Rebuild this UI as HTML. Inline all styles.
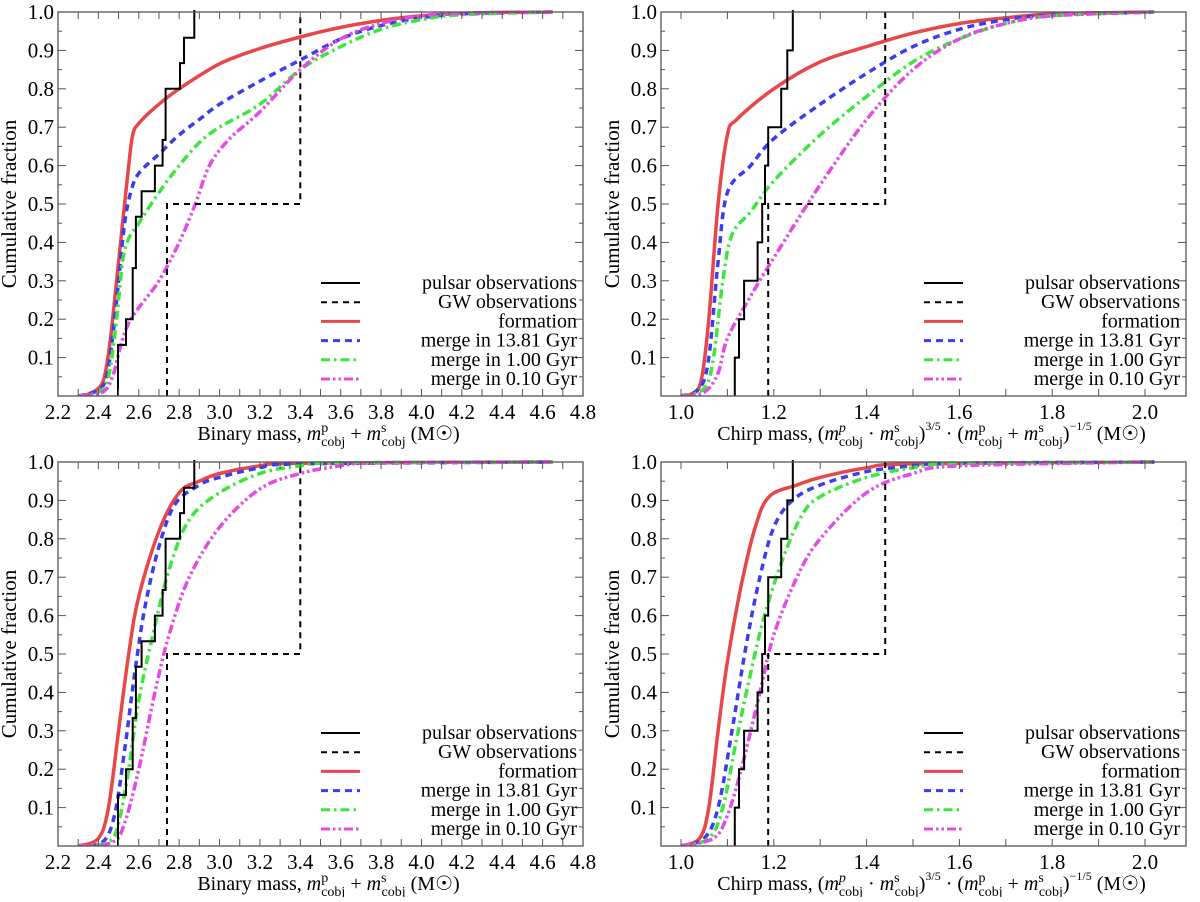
<!DOCTYPE html>
<html><head><meta charset="utf-8"><style>
body{margin:0;background:#fff}
svg, svg text, svg tspan{font-family:'Liberation Serif','Times New Roman','DejaVu Serif',serif !important}
</style></head><body>
<svg id="chart" width="1200" height="897" viewBox="0 0 1200 897"></svg>
<script>
// ---- data ----
const pulsarBinary = [2.497,2.537,2.57,2.586,2.614,2.68,2.718,2.733,2.804,2.824,2.875];
const pulsarBinaryFrac = [0.133,0.2,0.333,0.467,0.533,0.6,0.667,0.8,0.867,0.933,1.0];
const pulsarChirp = [1.116,1.125,1.136,1.165,1.175,1.181,1.188,1.216,1.229,1.241];
const pulsarChirpFrac = [0.1,0.2,0.3,0.4,0.5,0.6,0.7,0.8,0.9,1.0];
const gwBinary = [2.74,3.4];
const gwChirp = [1.188,1.44];
const gwFrac = [0.5,1.0];

// top-left
const tlFormX=[2.3,2.35,2.4,2.43,2.46,2.49,2.52,2.55,2.57,2.6,2.7,2.8,3.0,3.2,3.4,3.6,3.8,4.0,4.2,4.4,4.65];
const tlFormY=[0,0.005,0.02,0.05,0.15,0.3,0.45,0.6,0.68,0.71,0.76,0.8,0.865,0.905,0.935,0.96,0.978,0.99,0.996,0.999,1];
const tlM13X=[2.3,2.4,2.44,2.47,2.5,2.53,2.56,2.6,2.7,2.8,2.9,3.0,3.2,3.4,3.6,3.8,4.0,4.2,4.65];
const tlM13Y=[0,0.015,0.05,0.15,0.3,0.45,0.53,0.58,0.63,0.68,0.72,0.76,0.82,0.875,0.93,0.965,0.985,0.995,1];
const tlM1X=[2.3,2.4,2.45,2.49,2.52,2.55,2.6,2.7,2.8,2.9,3.0,3.2,3.4,3.6,3.8,4.0,4.2,4.65];
const tlM1Y=[0,0.01,0.05,0.2,0.35,0.41,0.45,0.53,0.6,0.66,0.7,0.76,0.85,0.91,0.955,0.98,0.993,1];
const tlM01X=[2.3,2.42,2.47,2.51,2.55,2.6,2.7,2.8,2.88,2.95,3.05,3.2,3.4,3.6,3.8,4.0,4.2,4.65];
const tlM01Y=[0,0.01,0.05,0.13,0.19,0.23,0.3,0.4,0.5,0.6,0.67,0.74,0.85,0.93,0.97,0.99,0.997,1];
// top-right
const trFormX=[1.0,1.03,1.045,1.06,1.08,1.1,1.12,1.2,1.3,1.4,1.5,1.6,1.7,1.8,2.02];
const trFormY=[0,0.01,0.05,0.2,0.5,0.68,0.72,0.8,0.87,0.91,0.945,0.97,0.985,0.995,1];
const trM13X=[1.0,1.04,1.06,1.08,1.1,1.15,1.2,1.3,1.4,1.5,1.6,1.7,1.8,2.02];
const trM13Y=[0,0.02,0.1,0.35,0.53,0.6,0.67,0.76,0.84,0.91,0.955,0.98,0.992,1];
const trM1X=[1.0,1.05,1.07,1.09,1.11,1.15,1.2,1.3,1.4,1.5,1.6,1.7,1.8,2.02];
const trM1Y=[0,0.02,0.1,0.3,0.42,0.48,0.56,0.68,0.78,0.87,0.93,0.97,0.99,1];
const trM01X=[1.0,1.05,1.08,1.1,1.15,1.2,1.3,1.4,1.5,1.6,1.7,1.8,2.02];
const trM01Y=[0,0.01,0.06,0.15,0.26,0.36,0.55,0.72,0.85,0.93,0.97,0.99,1];
// bottom-left
const blFormX=[2.3,2.4,2.45,2.5,2.55,2.6,2.7,2.8,2.9,3.0,3.2,3.4,4.65];
const blFormY=[0,0.02,0.1,0.3,0.5,0.65,0.82,0.92,0.95,0.97,0.99,0.997,1];
const blM13X=[2.3,2.42,2.48,2.53,2.58,2.63,2.7,2.78,2.9,3.0,3.2,3.4,4.65];
const blM13Y=[0,0.01,0.08,0.25,0.45,0.62,0.78,0.89,0.94,0.96,0.985,0.995,1];
const blM1X=[2.3,2.45,2.5,2.55,2.6,2.67,2.75,2.85,3.0,3.2,3.4,3.6,4.65];
const blM1Y=[0,0.01,0.06,0.2,0.38,0.55,0.72,0.85,0.92,0.97,0.99,0.998,1];
const blM01X=[2.3,2.47,2.53,2.6,2.68,2.75,2.85,3.0,3.2,3.4,3.6,3.8,4.65];
const blM01Y=[0,0.01,0.06,0.2,0.4,0.55,0.7,0.83,0.93,0.97,0.99,0.998,1];
// bottom-right
const brFormX=[1.0,1.04,1.06,1.08,1.1,1.13,1.16,1.19,1.25,1.3,1.4,1.5,2.02];
const brFormY=[0,0.02,0.1,0.3,0.48,0.68,0.83,0.91,0.94,0.96,0.985,0.995,1];
const brM13X=[1.0,1.05,1.08,1.11,1.14,1.17,1.2,1.24,1.3,1.4,1.5,1.6,2.02];
const brM13Y=[0,0.02,0.1,0.3,0.52,0.7,0.83,0.9,0.94,0.975,0.99,0.997,1];
const brM1X=[1.0,1.06,1.09,1.12,1.15,1.18,1.22,1.26,1.3,1.4,1.5,1.6,2.02];
const brM1Y=[0,0.02,0.1,0.28,0.45,0.6,0.75,0.86,0.91,0.96,0.985,0.996,1];
const brM01X=[1.0,1.07,1.1,1.13,1.17,1.2,1.25,1.3,1.4,1.5,1.6,2.02];
const brM01Y=[0,0.02,0.08,0.2,0.4,0.55,0.7,0.8,0.92,0.97,0.99,1];

const yTicks=[0.1,0.2,0.3,0.4,0.5,0.6,0.7,0.8,0.9,1.0];
const binaryTicks=[2.2,2.4,2.6,2.8,3.0,3.2,3.4,3.6,3.8,4.0,4.2,4.4,4.6,4.8];
const chirpTicks=[1.0,1.2,1.4,1.6,1.8,2.0];
const legendLabels=["pulsar observations","GW observations","formation","merge in 13.81 Gyr","merge in 1.00 Gyr","merge in 0.10 Gyr"];

const NS="http://www.w3.org/2000/svg";
const svg=document.getElementById('chart');
function el(tag,attrs,parent){const e=document.createElementNS(NS,tag);for(const k in attrs)e.setAttribute(k,attrs[k]);if(tag==='text')e.style.fontFamily="'Liberation Serif', 'DejaVu Serif', serif";(parent||svg).appendChild(e);return e;}

const styles=[
 {stroke:"#000",w:2,dash:""},
 {stroke:"#000",w:2,dash:"6,5"},
 {stroke:"#e8474a",w:3.5,dash:""},
 {stroke:"#3c3cf0",w:3.5,dash:"7,5"},
 {stroke:"#3ce63c",w:3.5,dash:"9,4,2.5,4"},
 {stroke:"#e44ae4",w:3.5,dash:"9,3,2.5,3,2.5,3"}
];

function smoothPath(pts){
  let d='M'+pts[0][0].toFixed(1)+','+pts[0][1].toFixed(1);
  for(let i=0;i<pts.length-1;i++){
    const p0=pts[Math.max(0,i-1)],p1=pts[i],p2=pts[i+1],p3=pts[Math.min(pts.length-1,i+2)];
    const c1=[p1[0]+(p2[0]-p0[0])/6,p1[1]+(p2[1]-p0[1])/6];
    const c2=[p2[0]-(p3[0]-p1[0])/6,p2[1]-(p3[1]-p1[1])/6];
    d+='C'+c1[0].toFixed(1)+','+c1[1].toFixed(1)+' '+c2[0].toFixed(1)+','+c2[1].toFixed(1)+' '+p2[0].toFixed(1)+','+p2[1].toFixed(1);
  }
  return d;
}

function panel(name,x0,x1,y0,y1,xmin,xmax,xticks,minorStep,pX,pY,gX,series,kind){
  const g=el('g',{});
  
  
  const sx=v=>x0+(v-xmin)/(xmax-xmin)*(x1-x0);
  const sy=v=>y1-v*(y1-y0);
  const clip=el('clipPath',{id:'c'+name},g);
  el('rect',{x:x0,y:y0-3,width:x1-x0,height:y1-y0+3},clip);
  const plot=el('g',{'clip-path':'url(#c'+name+')'},g);
  const names=['formation-line','merge-13-81-line','merge-1-00-line','merge-0-10-line'];
  series.forEach((s,i)=>{
    const st=styles[i+2];
    const pts=s[0].map((v,j)=>[sx(v),sy(s[1][j])]);
    const p=el('path',{d:smoothPath(pts),fill:'none',stroke:st.stroke,'stroke-width':st.w,'stroke-dasharray':st.dash},plot);
    
    
  });
  let d='M'+sx(pX[0]).toFixed(1)+','+sy(0);
  let prev=0;
  pX.forEach((v,j)=>{d+='L'+sx(v).toFixed(1)+','+sy(prev).toFixed(1)+'L'+sx(v).toFixed(1)+','+sy(pY[j]).toFixed(1);prev=pY[j];});
  d+='L'+sx(pX[pX.length-1]).toFixed(1)+','+(y0-2);
  const pp=el('path',{d:d,fill:'none',stroke:'#000','stroke-width':2},plot);
  
  
  let gd='M'+sx(gX[0]).toFixed(1)+','+sy(0)+'L'+sx(gX[0]).toFixed(1)+','+sy(gwFrac[0]).toFixed(1)+'L'+sx(gX[1]).toFixed(1)+','+sy(gwFrac[0]).toFixed(1)+'L'+sx(gX[1]).toFixed(1)+','+sy(gwFrac[1]).toFixed(1);
  const gp=el('path',{d:gd,fill:'none',stroke:'#000','stroke-width':2,'stroke-dasharray':'6,5'},plot);
  
  
  const fr=el('rect',{x:x0,y:y0,width:x1-x0,height:y1-y0,fill:'none',stroke:'#555','stroke-width':1.3},g);
  
  
  for(let k=1;k<20;k++){const v=k*0.05;const len=(k%2==0)?8:4;
    el('line',{x1:x0,y1:sy(v),x2:x0+len,y2:sy(v),stroke:'#555','stroke-width':1},g);
    el('line',{x1:x1,y1:sy(v),x2:x1-len,y2:sy(v),stroke:'#555','stroke-width':1},g);}
  yTicks.forEach(v=>{const t=el('text',{x:x0-4,y:sy(v)+7,'text-anchor':'end','font-size':21},g);t.textContent=v.toFixed(1);
    
    });
  const nmin=Math.ceil(xmin/minorStep-1e-6),nmax=Math.floor(xmax/minorStep+1e-6);
  for(let k=nmin;k<=nmax;k++){const v=k*minorStep;
    el('line',{x1:sx(v),y1:y1,x2:sx(v),y2:y1-7,stroke:'#555','stroke-width':1},g);
    el('line',{x1:sx(v),y1:y0,x2:sx(v),y2:y0+7,stroke:'#555','stroke-width':1},g);}
  xticks.forEach(v=>{const t=el('text',{x:sx(v),y:y1+23,'text-anchor':'middle','font-size':21},g);t.textContent=v.toFixed(1);
    
    });
  const yt=el('text',{x:0,y:0,'text-anchor':'middle','font-size':21,transform:`translate(${x0-42},${(y0+y1)/2}) rotate(-90)`},g);
  yt.textContent='Cumulative fraction';
  
  
  const xt=el('text',{x:(x0+x1)/2+8,y:y1+44,'text-anchor':'middle','font-size':20},g);
  
  
  if(kind==='binary'){
    xt.innerHTML='Binary mass, <tspan font-style="italic">m</tspan><tspan font-size="14" dy="-8">p</tspan><tspan font-size="14" dx="-7" dy="14">cobj</tspan><tspan dy="-6"> + </tspan><tspan font-style="italic">m</tspan><tspan font-size="14" dy="-8">s</tspan><tspan font-size="14" dx="-5" dy="14">cobj</tspan><tspan dy="-6"> (M</tspan><tspan>☉</tspan><tspan>)</tspan>';
  } else {
    xt.innerHTML='Chirp mass, (<tspan font-style="italic">m</tspan><tspan font-size="14" font-style="italic" dy="-8">p</tspan><tspan font-size="14" dx="-7" dy="14">cobj</tspan><tspan dy="-6"> · </tspan><tspan font-style="italic">m</tspan><tspan font-size="14" dy="-8">s</tspan><tspan font-size="14" dx="-5" dy="14">cobj</tspan><tspan dy="-6">)</tspan><tspan font-size="12" dy="-10">3/5</tspan><tspan dy="10"> · (</tspan><tspan font-style="italic">m</tspan><tspan font-size="14" dy="-8">p</tspan><tspan font-size="14" dx="-7" dy="14">cobj</tspan><tspan dy="-6"> + </tspan><tspan font-style="italic">m</tspan><tspan font-size="14" dy="-8">s</tspan><tspan font-size="14" dx="-5" dy="14">cobj</tspan><tspan dy="-6">)</tspan><tspan font-size="12" dy="-10">−1/5</tspan><tspan dy="10"> (M☉)</tspan>';
  }
  const lg=el('g',{},g);
  
  
  legendLabels.forEach((lab,i)=>{
    const yy=y1-113+i*19.2;const st=styles[i];
    const ln=el('line',{x1:x1-262,y1:yy,x2:x1-223,y2:yy,stroke:st.stroke,'stroke-width':i<2?2:3,'stroke-dasharray':st.dash},lg);
    
    
    const t=el('text',{x:x1-6,y:yy+6,'text-anchor':'end','font-size':20},lg);
    t.textContent=lab;
    
    
  });
}
const bxmin=2.2,bxmax=4.8;
const cxmin=1.0-20/464,cxmax=1.0+505/464;
panel('panel-binary-top',58,583,12,396,bxmin,bxmax,binaryTicks,0.1,pulsarBinary,pulsarBinaryFrac,gwBinary,[[tlFormX,tlFormY],[tlM13X,tlM13Y],[tlM1X,tlM1Y],[tlM01X,tlM01Y]],'binary');
panel('panel-chirp-top',661,1186,12,396,cxmin,cxmax,chirpTicks,0.1,pulsarChirp,pulsarChirpFrac,gwChirp,[[trFormX,trFormY],[trM13X,trM13Y],[trM1X,trM1Y],[trM01X,trM01Y]],'chirp');
panel('panel-binary-bottom',58,583,462,846,bxmin,bxmax,binaryTicks,0.1,pulsarBinary,pulsarBinaryFrac,gwBinary,[[blFormX,blFormY],[blM13X,blM13Y],[blM1X,blM1Y],[blM01X,blM01Y]],'binary');
panel('panel-chirp-bottom',661,1186,462,846,cxmin,cxmax,chirpTicks,0.1,pulsarChirp,pulsarChirpFrac,gwChirp,[[brFormX,brFormY],[brM13X,brM13Y],[brM1X,brM1Y],[brM01X,brM01Y]],'chirp');
</script>
</body></html>
